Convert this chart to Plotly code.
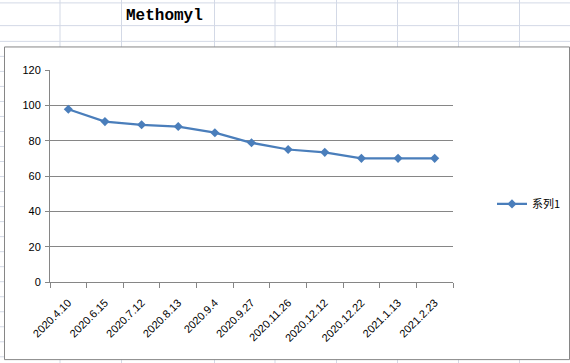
import plotly.graph_objects as go

categories = ["2020.4.10", "2020.6.15", "2020.7.12", "2020.8.13", "2020.9.4", "2020.9.27",
              "2020.11.26", "2020.12.12", "2020.12.22", "2021.1.13", "2021.2.23"]
values = [97.8, 90.8, 89.0, 88.0, 84.5, 78.8, 75.0, 73.4, 70.0, 70.0, 70.0]
series_name = "系列1"
title_text = "Methomyl"
y_ticks = [0, 20, 40, 60, 80, 100, 120]

W, H = 570, 363
PL, PR, PT, PB = 50, 453, 70.3, 282  # plot area in pixels

def px(x):
    return (x - PL) / (PR - PL)

def py(y):
    return (PB - y) / (PB - PT)

grid_c = "#d3d9e6"
shapes = []
# spreadsheet background grid
for yy in [3.3, 26] + [41.7 + 15 * i for i in range(22)]:
    shapes.append(dict(type="line", xref="paper", yref="paper", x0=px(0), x1=px(W),
                       y0=py(yy), y1=py(yy), line=dict(color=grid_c, width=1), layer="below"))
for xx in [60, 121.5, 214.5, 275, 336.5, 397.5, 458.5, 519.5]:
    shapes.append(dict(type="line", xref="paper", yref="paper", x0=px(xx), x1=px(xx),
                       y0=py(0), y1=py(H), line=dict(color=grid_c, width=1), layer="below"))
# chart area
shapes.append(dict(type="rect", xref="paper", yref="paper", x0=px(4.5), x1=px(569.5),
                   y0=py(47.3), y1=py(359.5), fillcolor="white",
                   line=dict(color="#868686", width=1), layer="below"))

fig = go.Figure()
fig.add_trace(go.Scatter(
    x=categories, y=values, name=series_name, mode="lines+markers",
    line=dict(color="#4a7ebb", width=2.25),
    marker=dict(symbol="diamond", size=7, color="#4a7ebb"),
    showlegend=True,
))

fig.update_layout(
    width=W, height=H,
    margin=dict(l=PL, r=W - PR, t=PT, b=H - PB, pad=0, autoexpand=False),
    paper_bgcolor="white", plot_bgcolor="rgba(0,0,0,0)",
    shapes=shapes,
    font=dict(family="Liberation Sans, Noto Sans CJK SC", size=10, color="#000"),
    annotations=[dict(text="<b>" + title_text + "</b>", xref="paper", yref="paper",
                      x=px(164), y=py(16), xanchor="center", yanchor="middle",
                      showarrow=False,
                      font=dict(family="Liberation Mono", size=16, color="#000"))],
    xaxis=dict(type="category", tickangle=-45, tickson="boundaries", automargin=False,
               ticks="outside", ticklen=5, tickcolor="#868686",
               showline=True, linecolor="#868686", linewidth=1,
               showgrid=False, zeroline=False,
               range=[-0.5, len(categories) - 0.5],
               ticklabelstandoff=9, tickfont=dict(size=11)),
    yaxis=dict(range=[0, 120], tickvals=y_ticks, ticks="outside", ticklen=4, automargin=False,
               tickcolor="#868686", showline=True, linecolor="#868686", linewidth=1,
               showgrid=True, gridcolor="#868686", gridwidth=1, zeroline=False,
               ticklabelstandoff=2, tickfont=dict(size=11)),
    legend=dict(x=px(492), y=py(204), xanchor="left", yanchor="middle",
                bgcolor="rgba(0,0,0,0)", itemwidth=30,
                font=dict(size=11, family="Noto Sans CJK SC")),
)

fig.write_html("out.html", config={"displayModeBar": False},
               post_script="document.body.style.margin='0px';")
